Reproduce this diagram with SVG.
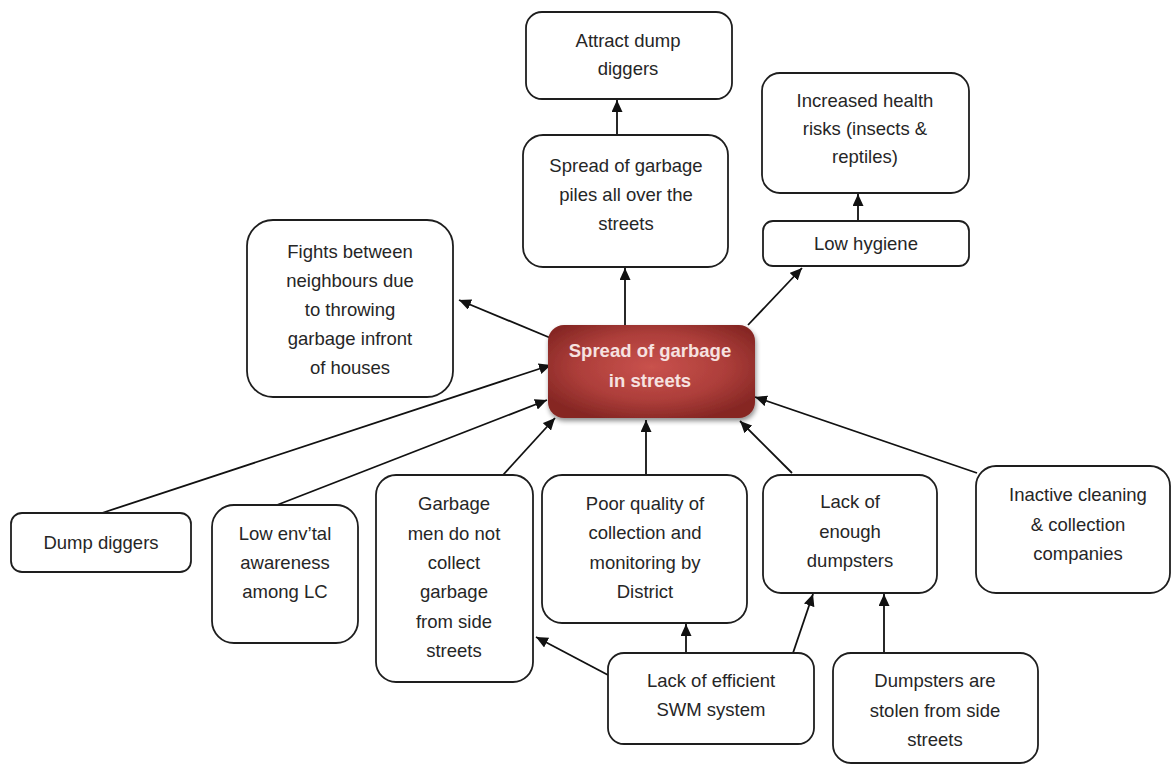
<svg xmlns="http://www.w3.org/2000/svg" width="1173" height="765" viewBox="0 0 1173 765">
  <defs>
    <style>
      .box { fill: #ffffff; stroke: #1e1e1e; stroke-width: 1.8; }
      .lbl { font-family: "Liberation Sans", Arial, sans-serif; font-size: 18.5px; fill: #262626; text-anchor: middle; }
      .core { font-family: "Liberation Sans", Arial, sans-serif; font-size: 18.5px; font-weight: bold; fill: #f6e2e0; text-anchor: middle; }
      .edge { stroke: #111111; stroke-width: 1.8; fill: none; marker-end: url(#head); }
    </style>
    <marker id="head" markerUnits="userSpaceOnUse" markerWidth="13" markerHeight="11" refX="12" refY="5.5" orient="auto">
      <path d="M0,0 L12,5.5 L0,11 Z" fill="#111111"/>
    </marker>
    <radialGradient id="coreFill" cx="50%" cy="45%" r="60%">
      <stop offset="0" stop-color="#c9524d"/>
      <stop offset="0.6" stop-color="#ad3e3a"/>
      <stop offset="1" stop-color="#862724"/>
    </radialGradient>
    <filter id="drop" x="-10%" y="-10%" width="125%" height="130%">
      <feGaussianBlur in="SourceAlpha" stdDeviation="2.5"/>
      <feOffset dx="1" dy="3" result="b"/>
      <feComponentTransfer><feFuncA type="linear" slope="0.45"/></feComponentTransfer>
      <feMerge><feMergeNode/><feMergeNode in="SourceGraphic"/></feMerge>
    </filter>
  </defs>

  <rect width="1173" height="765" fill="#ffffff"/>

  <!-- connectors -->
  <g id="connectors">
    <line class="edge" x1="617" y1="135" x2="617" y2="100"/>
    <line class="edge" x1="625" y1="325" x2="625" y2="268"/>
    <line class="edge" x1="748" y1="325" x2="802" y2="268"/>
    <line class="edge" x1="858" y1="221" x2="858" y2="194"/>
    <line class="edge" x1="553" y1="339" x2="459" y2="300"/>
    <line class="edge" x1="102" y1="513" x2="551" y2="365"/>
    <line class="edge" x1="277" y1="505" x2="547" y2="400"/>
    <line class="edge" x1="503" y1="475" x2="555" y2="418"/>
    <line class="edge" x1="646" y1="475" x2="646" y2="420"/>
    <line class="edge" x1="792" y1="473" x2="740" y2="421"/>
    <line class="edge" x1="977" y1="473" x2="755" y2="397"/>
    <line class="edge" x1="686" y1="653" x2="686" y2="624"/>
    <line class="edge" x1="793" y1="653" x2="813" y2="594"/>
    <line class="edge" x1="608" y1="675" x2="536" y2="637"/>
    <line class="edge" x1="884" y1="653" x2="884" y2="594"/>
  </g>

  <!-- central problem -->
  <g id="core">
    <rect x="548" y="325" width="207" height="93" rx="16" fill="url(#coreFill)" filter="url(#drop)"/>
    <text class="core" x="650" y="357">Spread of garbage</text>
    <text class="core" x="650" y="387">in streets</text>
  </g>

  <g id="attract">
    <rect class="box" x="526" y="12" width="206" height="87" rx="16"/>
    <text class="lbl" x="628" y="47">Attract dump</text>
    <text class="lbl" x="628" y="75">diggers</text>
  </g>

  <g id="piles">
    <rect class="box" x="523" y="135" width="205" height="132" rx="20"/>
    <text class="lbl" x="626" y="172">Spread of garbage</text>
    <text class="lbl" x="626" y="201">piles all over the</text>
    <text class="lbl" x="626" y="230">streets</text>
  </g>

  <g id="health">
    <rect class="box" x="762" y="73" width="207" height="120" rx="18"/>
    <text class="lbl" x="865" y="107">Increased health</text>
    <text class="lbl" x="865" y="135">risks (insects &amp;</text>
    <text class="lbl" x="865" y="163">reptiles)</text>
  </g>

  <g id="hygiene">
    <rect class="box" x="763" y="221" width="206" height="45" rx="10"/>
    <text class="lbl" x="866" y="250">Low hygiene</text>
  </g>

  <g id="fights">
    <rect class="box" x="247" y="220" width="206" height="177" rx="26"/>
    <text class="lbl" x="350" y="258">Fights between</text>
    <text class="lbl" x="350" y="287">neighbours due</text>
    <text class="lbl" x="350" y="316">to throwing</text>
    <text class="lbl" x="350" y="345">garbage infront</text>
    <text class="lbl" x="350" y="374">of houses</text>
  </g>

  <g id="dumpdiggers">
    <rect class="box" x="11" y="513" width="180" height="59" rx="11"/>
    <text class="lbl" x="101" y="549">Dump diggers</text>
  </g>

  <g id="awareness">
    <rect class="box" x="212" y="505" width="146" height="138" rx="22"/>
    <text class="lbl" x="285" y="540">Low env’tal</text>
    <text class="lbl" x="285" y="569">awareness</text>
    <text class="lbl" x="285" y="598">among LC</text>
  </g>

  <g id="garbagemen">
    <rect class="box" x="376" y="475" width="157" height="207" rx="20"/>
    <text class="lbl" x="454" y="510">Garbage</text>
    <text class="lbl" x="454" y="540">men do not</text>
    <text class="lbl" x="454" y="569">collect</text>
    <text class="lbl" x="454" y="598">garbage</text>
    <text class="lbl" x="454" y="628">from side</text>
    <text class="lbl" x="454" y="657">streets</text>
  </g>

  <g id="quality">
    <rect class="box" x="542" y="475" width="205" height="148" rx="20"/>
    <text class="lbl" x="645" y="510">Poor quality of</text>
    <text class="lbl" x="645" y="539">collection and</text>
    <text class="lbl" x="645" y="569">monitoring by</text>
    <text class="lbl" x="645" y="598">District</text>
  </g>

  <g id="dumpsters">
    <rect class="box" x="763" y="475" width="174" height="118" rx="18"/>
    <text class="lbl" x="850" y="508">Lack of</text>
    <text class="lbl" x="850" y="538">enough</text>
    <text class="lbl" x="850" y="567">dumpsters</text>
  </g>

  <g id="companies">
    <rect class="box" x="976" y="466" width="194" height="127" rx="20"/>
    <text class="lbl" x="1078" y="501">Inactive cleaning</text>
    <text class="lbl" x="1078" y="531">&amp; collection</text>
    <text class="lbl" x="1078" y="560">companies</text>
  </g>

  <g id="swm">
    <rect class="box" x="608" y="653" width="206" height="91" rx="16"/>
    <text class="lbl" x="711" y="687">Lack of efficient</text>
    <text class="lbl" x="711" y="716">SWM system</text>
  </g>

  <g id="stolen">
    <rect class="box" x="833" y="653" width="205" height="110" rx="18"/>
    <text class="lbl" x="935" y="687">Dumpsters are</text>
    <text class="lbl" x="935" y="717">stolen from side</text>
    <text class="lbl" x="935" y="746">streets</text>
  </g>
</svg>
